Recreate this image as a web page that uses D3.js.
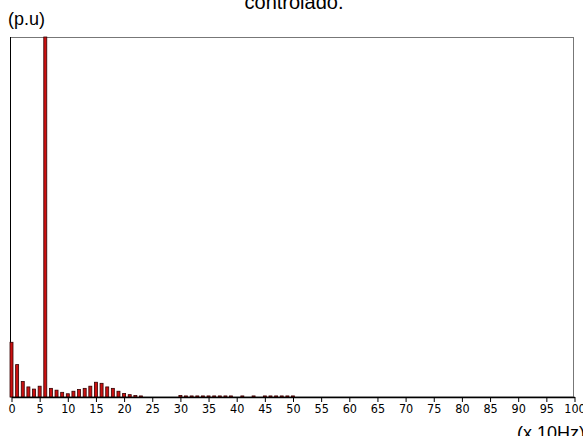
<!DOCTYPE html>
<html>
<head>
<meta charset="utf-8">
<script src="https://cdn.jsdelivr.net/npm/d3@7"></script>
<style>
body { margin: 0; background: #fff; }
svg { display: block; }
</style>
</head>
<body>
<svg id="chart"></svg>
<script>
var width = 583, height = 436;

// harmonic orders and amplitudes (p.u)
var harmonics = [0,1,2,3,4,5,6,7,8,9,10,11,12,13,14,15,16,17,18,19,20,21,22,23,
	30,31,32,33,34,35,36,37,38,39,41,43,45,46,47,48,49,50];
var amps = [0.152,0.090,0.043,0.028,0.022,0.030,1.0,0.024,0.019,0.013,0.009,0.016,0.021,0.024,0.030,0.041,0.038,0.028,0.024,0.016,0.010,0.0065,0.004,0.003,
	0.004,0.003,0.003,0.003,0.003,0.003,0.003,0.003,0.003,0.003,0.003,0.003,0.003,0.003,0.003,0.003,0.003,0.003];
var xTicks = d3.range(0, 101, 5);

var svg = d3.select("#chart").attr("width", width).attr("height", height);

var x = d3.scaleLinear().domain([0, 100]).range([11.5, 574.5]),
	y = d3.scaleLinear().domain([0, 1]).range([397, 37]);

// title, cut at the top
svg.append("text")
	.attr("x", 294).attr("y", 9)
	.attr("text-anchor", "middle")
	.style("font-family", "Liberation Sans, Arial, sans-serif")
	.style("font-size", "20px")
	.text("controlado.");

svg.append("text")
	.attr("x", 8).attr("y", 25)
	.style("font-family", "Liberation Sans, Arial, sans-serif")
	.style("font-size", "18px")
	.text("(p.u)");

// frame
svg.append("rect")
	.attr("x", 10.5).attr("y", 37.5)
	.attr("width", 563).attr("height", 359.5)
	.attr("fill", "none").attr("stroke", "#777").attr("stroke-width", 1);
svg.append("line")
	.attr("x1", 10.5).attr("x2", 10.5).attr("y1", 37).attr("y2", 397)
	.attr("stroke", "#000");

// bars
svg.selectAll("rect.bar")
	.data(harmonics)
	.enter()
	.append("rect")
	.attr("class", "bar")
	.attr("x", function(d){ return x(d) - 1.5; })
	.attr("y", function(d, i){ return y(amps[i]); })
	.attr("width", 3)
	.attr("height", function(d, i){ return y(0) - y(amps[i]); })
	.attr("fill", "#cc1111")
	.attr("stroke", "#330000")
	.attr("stroke-width", 0.8);

// x axis
var xAxis = d3.axisBottom(x).tickValues(xTicks).tickSize(5).tickSizeOuter(0).tickPadding(2);
var gx = svg.append("g").attr("transform", "translate(0,397)").call(xAxis);
gx.select(".domain").attr("stroke", "#000").attr("stroke-width", 1.5);
gx.selectAll("text")
	.style("font-family", "Liberation Sans Narrow, DejaVu Sans Condensed, Arial Narrow, sans-serif")
	.style("font-size", "12.5px")
	.attr("fill", "#000");

svg.append("text")
	.attr("x", 517).attr("y", 439)
	.style("font-family", "Liberation Sans, Arial, sans-serif")
	.style("font-size", "18px")
	.text("(x 10Hz)");
</script>
</body>
</html>
